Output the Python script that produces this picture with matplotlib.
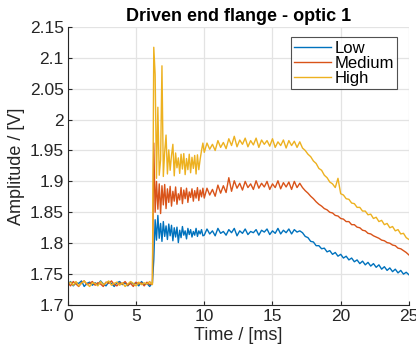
import numpy as np
import matplotlib
matplotlib.use('Agg')
import matplotlib.pyplot as plt

plt.rcParams['font.family'] = ['Liberation Sans', 'DejaVu Sans']

# sample times [ms]: slow before the step, finer through the transient, slow after
t = np.concatenate([np.linspace(0, 6.2, 32), np.linspace(6.3, 9.9, 37), np.linspace(10.0, 25.0, 76)])

# Low
low = [1.733, 1.738, 1.731, 1.736, 1.735, 1.739, 1.730, 1.735, 1.737, 1.732,
       1.736, 1.733, 1.739, 1.734, 1.731, 1.737, 1.735, 1.730, 1.736, 1.738,
       1.733, 1.736, 1.731, 1.737, 1.734, 1.736, 1.731, 1.738, 1.733, 1.735,
       1.730, 1.736,
       # 6.3 - 9.9
       1.773, 1.838, 1.805, 1.845, 1.808, 1.832, 1.803, 1.835, 1.811, 1.828,
       1.806, 1.831, 1.812, 1.829, 1.804, 1.825, 1.810, 1.826, 1.801, 1.821,
       1.809, 1.827, 1.813, 1.820, 1.807, 1.824, 1.814, 1.822, 1.810, 1.819,
       1.813, 1.824, 1.811, 1.820, 1.815, 1.822, 1.812,
       # 10.0 - 17.0
       1.813, 1.823, 1.815, 1.820, 1.812, 1.824, 1.816, 1.819, 1.813, 1.822,
       1.817, 1.824, 1.812, 1.820, 1.816, 1.823, 1.814, 1.819, 1.817, 1.822,
       1.813, 1.821, 1.818, 1.823, 1.814, 1.820, 1.816, 1.824, 1.815, 1.821,
       1.817, 1.823, 1.815, 1.822, 1.818, 1.820,
       # 17.2 - 25.0
       1.817, 1.811, 1.809, 1.803, 1.802, 1.796, 1.796, 1.791, 1.792, 1.786,
       1.788, 1.782, 1.785, 1.779, 1.782, 1.776, 1.779, 1.773, 1.776, 1.770,
       1.773, 1.767, 1.771, 1.765, 1.769, 1.763, 1.767, 1.761, 1.765, 1.758,
       1.762, 1.756, 1.760, 1.754, 1.758, 1.752, 1.756, 1.750, 1.753, 1.749]

# Medium
medium = [1.736, 1.731, 1.738, 1.734, 1.730, 1.736, 1.739, 1.733, 1.735, 1.738,
          1.732, 1.736, 1.734, 1.730, 1.737, 1.735, 1.739, 1.733, 1.731, 1.736,
          1.734, 1.738, 1.732, 1.735, 1.730, 1.737, 1.734, 1.736, 1.731, 1.737,
          1.733, 1.735,
          # 6.3 - 9.9
          1.962, 1.850, 1.900, 1.855, 1.896, 1.848, 1.893, 1.862, 1.895, 1.856,
          1.888, 1.866, 1.892, 1.860, 1.884, 1.868, 1.891, 1.863, 1.880, 1.870,
          1.890, 1.864, 1.886, 1.872, 1.889, 1.866, 1.883, 1.874, 1.888, 1.868,
          1.885, 1.873, 1.890, 1.869, 1.886, 1.875, 1.889,
          # 10.0 - 17.0
          1.873, 1.889, 1.878, 1.887, 1.876, 1.894, 1.881, 1.893, 1.882, 1.906,
          1.884, 1.901, 1.889, 1.897, 1.886, 1.900, 1.890, 1.896, 1.887, 1.901,
          1.889, 1.897, 1.891, 1.900, 1.887, 1.896, 1.890, 1.901, 1.888, 1.898,
          1.891, 1.899, 1.887, 1.900, 1.890, 1.897,
          # 17.2 - 25.0
          1.890, 1.885, 1.881, 1.876, 1.872, 1.867, 1.863, 1.860, 1.856, 1.854,
          1.850, 1.849, 1.845, 1.844, 1.840, 1.839, 1.835, 1.835, 1.830, 1.830,
          1.826, 1.825, 1.821, 1.820, 1.816, 1.815, 1.812, 1.810, 1.808, 1.805,
          1.804, 1.801, 1.800, 1.797, 1.796, 1.792, 1.791, 1.788, 1.785, 1.781]

# High
high = [1.734, 1.737, 1.732, 1.738, 1.731, 1.735, 1.739, 1.734, 1.730, 1.736,
        1.735, 1.731, 1.738, 1.733, 1.736, 1.739, 1.732, 1.735, 1.737, 1.732,
        1.736, 1.730, 1.734, 1.738, 1.735, 1.731, 1.737, 1.733, 1.736, 1.734,
        1.738, 1.733,
        # 6.3 - 9.9
        2.117, 2.073, 1.905, 2.020, 1.910, 1.935, 2.087, 1.908, 1.948, 1.975,
        1.912, 1.951, 1.918, 1.942, 1.960, 1.909, 1.946, 1.922, 1.938, 1.913,
        1.944, 1.920, 1.945, 1.911, 1.937, 1.919, 1.944, 1.914, 1.939, 1.921,
        1.942, 1.912, 1.943, 1.919, 1.936, 1.950, 1.962,
        # 10.0 - 17.0
        1.947, 1.962, 1.952, 1.960, 1.950, 1.966, 1.955, 1.963, 1.953, 1.969,
        1.958, 1.973, 1.956, 1.967, 1.960, 1.970, 1.956, 1.966, 1.959, 1.970,
        1.955, 1.967, 1.960, 1.966, 1.957, 1.969, 1.955, 1.964, 1.958, 1.967,
        1.954, 1.966, 1.958, 1.965, 1.955, 1.964,
        # 17.2 - 25.0
        1.954, 1.950, 1.944, 1.940, 1.933, 1.929, 1.921, 1.918, 1.910, 1.906,
        1.899, 1.896, 1.890, 1.905, 1.880, 1.878, 1.872, 1.871, 1.865, 1.864,
        1.858, 1.858, 1.852, 1.852, 1.846, 1.847, 1.840, 1.842, 1.835, 1.837,
        1.830, 1.832, 1.825, 1.827, 1.820, 1.822, 1.815, 1.816, 1.809, 1.806]

series = [('Low', low, '#0072BD'), ('Medium', medium, '#D95319'), ('High', high, '#EDB120')]

xticks = [0, 5, 10, 15, 20, 25]
yticks = [1.7, 1.75, 1.8, 1.85, 1.9, 1.95, 2.0, 2.05, 2.1, 2.15]
ytick_labels = ['1.7', '1.75', '1.8', '1.85', '1.9', '1.95', '2', '2.05', '2.1', '2.15']

fig = plt.figure(figsize=(4.16, 3.49), dpi=100)
ax = fig.add_axes([0.163, 0.126, 0.820, 0.797])

for name, vals, col in series:
    ax.plot(t, vals, color=col, lw=1.0, label=name)

ax.set_xlim(0, 25)
ax.set_ylim(1.7, 2.15)
ax.set_xticks(xticks)
ax.set_xticklabels([str(v) for v in xticks])
ax.set_yticks(yticks)
ax.set_yticklabels(ytick_labels)
ax.grid(True, color='#e3e3e3', lw=0.9)
ax.set_axisbelow(True)
for s in ['top', 'right']:
    ax.spines[s].set_visible(False)
for s in ['left', 'bottom']:
    ax.spines[s].set_color('#262626')
    ax.spines[s].set_linewidth(0.8)
ax.tick_params(direction='in', length=3, width=0.8, labelsize=12.5, colors='#262626', pad=3)

ax.set_xlabel('Time / [ms]', fontsize=13, color='#262626', labelpad=2)
ax.set_ylabel('Amplitude / [V]', fontsize=13, color='#262626', labelpad=3)
ax.set_title('Driven end flange - optic 1', fontsize=13, fontweight='bold', pad=4)

leg = ax.legend(loc='upper right', bbox_to_anchor=(0.966, 0.962), fontsize=12, frameon=True,
                fancybox=False, edgecolor='#262626', handlelength=2.2, handletextpad=0.2,
                labelspacing=0.0, borderpad=0.2, borderaxespad=0)
leg.get_frame().set_linewidth(0.8)

fig.savefig('out.png', dpi=100)
